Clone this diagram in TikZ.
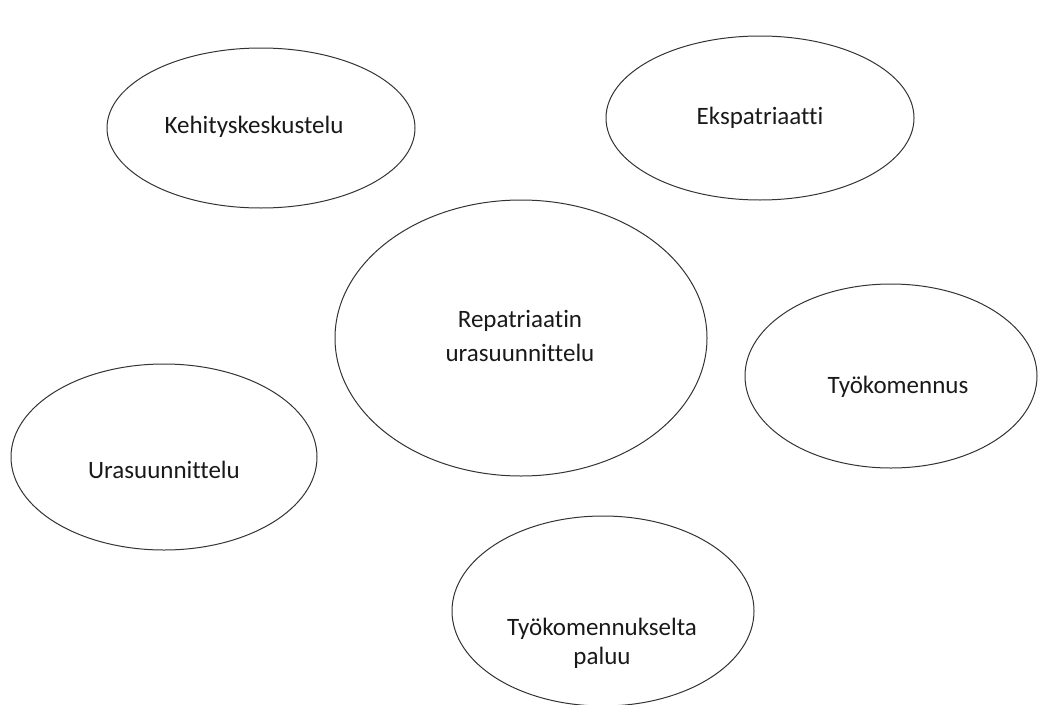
\documentclass[tikz,border=0pt]{standalone}
\usepackage{fontspec}
\setmainfont{Carlito}[Ligatures=NoCommon]
\usetikzlibrary{shapes.geometric}

\tikzset{
    bubble/.style={ellipse, draw=black!80, line width=1pt, inner sep=0pt},
    bubbletext/.style={anchor=center, align=center, inner sep=0pt,
        font=\fontsize{25}{34}\selectfont, text=black!90},
}

\begin{document}
\begin{tikzpicture}[x=1pt, y=-1pt]
    \useasboundingbox (0, 0) rectangle (1038, 704);
    \begin{scope}
        % Ellipses
        \node[bubble, minimum width=308, minimum height=160] (kehitys) at (261, 128) {};
        \node[bubble, minimum width=308, minimum height=164] (ekspat) at (760, 118) {};
        \node[bubble, minimum width=372, minimum height=276] (repat) at (521, 338) {};
        \node[bubble, minimum width=292, minimum height=184] (tyokom) at (891, 376) {};
        \node[bubble, minimum width=306, minimum height=186] (urasu) at (164, 457) {};
        \node[bubble, minimum width=302, minimum height=190] (paluu) at (603, 611) {};
        % Labels
        \node[bubbletext] (kehitysT) at (254, 127) {Kehityskeskustelu};
        \node[bubbletext] (ekspatT) at (760, 118) {Ekspatriaatti};
        \node[bubbletext] (repatT) at (520, 336) {Repatriaatin\\urasuunnittelu};
        \node[bubbletext] (tyokomT) at (898, 387) {Työkomennus};
        \node[bubbletext] (urasuT) at (164, 470) {Urasuunnittelu};
        \node[bubbletext, font=\fontsize{25}{29}\selectfont] (paluuT) at (602, 643) {Työkomennukselta\\paluu};
    \end{scope}
\end{tikzpicture}
\end{document}
